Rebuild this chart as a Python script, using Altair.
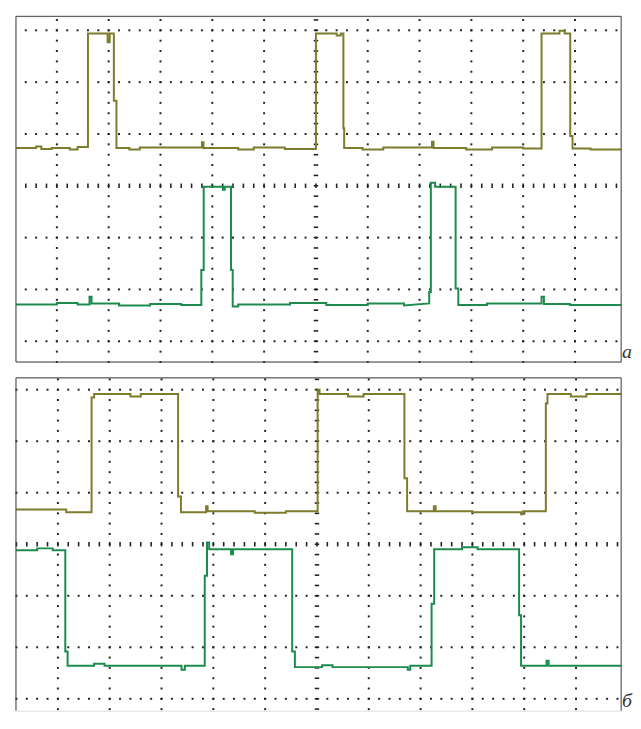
import altair as alt
import numpy as np
import pandas as pd

# ---- screen geometry in divisions (centre of graticule = 0,0) ----
a_x_domain = [-5.79, 5.89]
a_y_domain = [-3.40, 3.27]
b_x_domain = [-5.81, 5.87]
b_y_domain = [-3.23, 3.23]

# ---- panel a, channel 1 (olive) ----
a1_x = [-5.79, -5.40, -5.40, -5.30, -5.30, -5.10, -5.10, -4.75, -4.75, -4.60, -4.60, -4.40,
        -4.40, -4.02, -4.02, -3.98, -3.98, -3.90, -3.90, -3.85, -3.85,
        -3.60, -3.60, -3.40, -3.40, -2.20, -2.20, -2.17, -2.17, -1.50, -1.50, -1.20, -1.20,
        -0.60, -0.60, 0.00,
        0.00, 0.40, 0.40, 0.48, 0.48, 0.53, 0.53, 0.545, 0.545,
        0.90, 0.90, 1.30, 1.30, 2.24, 2.24, 2.27, 2.27, 2.90, 2.90, 3.40, 3.40, 4.00, 4.00, 4.354,
        4.354, 4.70, 4.70, 4.80, 4.80, 4.908, 4.908, 4.952, 4.952, 5.30, 5.30, 5.89]
a1_y = [0.73, 0.73, 0.76, 0.76, 0.71, 0.71, 0.73, 0.73, 0.70, 0.70, 0.75, 0.75,
        2.94, 2.94, 2.77, 2.77, 2.94, 2.94, 1.64, 1.64, 0.73,
        0.73, 0.70, 0.70, 0.74, 0.74, 0.84, 0.84, 0.73, 0.73, 0.70, 0.70, 0.74,
        0.74, 0.71, 0.71,
        2.94, 2.94, 2.90, 2.90, 2.94, 2.94, 1.11, 1.11, 0.73,
        0.73, 0.70, 0.70, 0.74, 0.74, 0.85, 0.85, 0.73, 0.73, 0.70, 0.70, 0.74, 0.74, 0.72, 0.72,
        2.94, 2.94, 2.99, 2.99, 2.94, 2.94, 0.96, 0.96, 0.72, 0.72, 0.70, 0.70]

# ---- panel a, channel 2 (green) ----
a2_x = [-5.79, -5.00, -5.00, -4.60, -4.60, -4.37, -4.37, -4.33, -4.33, -3.80, -3.80, -3.20, -3.20,
        -2.60, -2.60, -2.212,
        -2.212, -2.166, -2.166, -1.797, -1.797, -1.759, -1.759, -1.639, -1.639, -1.606, -1.606,
        -1.50, -1.50, -0.50, -0.50, 0.20, 0.20, 1.00, 1.00, 1.70, 1.70, 2.186,
        2.186, 2.218, 2.218, 2.30, 2.30, 2.696, 2.696, 2.748, 2.748,
        3.30, 3.30, 4.354, 4.354, 4.40, 4.40, 4.90, 4.90, 5.89]
a2_y = [-2.29, -2.29, -2.26, -2.26, -2.29, -2.29, -2.14, -2.14, -2.27, -2.27, -2.31, -2.31, -2.28,
        -2.28, -2.30, -2.30,
        -1.625, -1.625, -0.02, -0.02, -0.076, -0.076, -0.02, -0.02, -1.625, -1.625, -2.33,
        -2.33, -2.29, -2.29, -2.26, -2.26, -2.30, -2.30, -2.27, -2.27, -2.31, -2.27,
        -2.05, -2.05, 0.057, 0.057, -0.02, -0.02, -1.98, -1.98, -2.30,
        -2.30, -2.27, -2.27, -2.14, -2.14, -2.28, -2.28, -2.30, -2.30]

# ---- panel b, channel 1 (olive) ----
b1_x = [-5.81, -4.84, -4.84, -4.35, -4.35, -4.30, -4.30, -3.60, -3.60, -3.40, -3.40, -2.68,
        -2.68, -2.625, -2.625, -2.14, -2.14, -2.11, -2.11, -1.20, -1.20, -0.60, -0.60, 0.013,
        0.013, 0.05, 0.05, 0.60, 0.60, 0.90, 0.90, 1.688, 1.688, 1.740, 1.740,
        2.256, 2.256, 2.29, 2.29, 3.00, 3.00, 3.939, 3.939, 3.98, 3.98, 4.417,
        4.417, 4.449, 4.449, 4.90, 4.90, 5.20, 5.20, 5.87]
b1_y = [0.673, 0.673, 0.621, 0.621, 2.85, 2.85, 2.917, 2.917, 2.87, 2.87, 2.917, 2.917,
        0.929, 0.929, 0.621, 0.621, 0.737, 0.737, 0.64, 0.64, 0.61, 0.61, 0.64, 0.64,
        3.00, 3.00, 2.917, 2.917, 2.87, 2.87, 2.917, 2.917, 1.283, 1.283, 0.64,
        0.64, 0.737, 0.737, 0.64, 0.64, 0.62, 0.62, 0.58, 0.58, 0.64, 0.64,
        2.731, 2.731, 2.917, 2.917, 2.87, 2.87, 2.917, 2.917]

# ---- panel b, channel 2 (green) ----
b2_x = [-5.81, -5.40, -5.40, -5.10, -5.10, -4.857, -4.857, -4.813, -4.813, -4.302, -4.302,
        -4.10, -4.10, -2.614, -2.614, -2.55, -2.55, -2.166, -2.166, -2.122, -2.122, -2.08, -2.08,
        -1.658, -1.658, -1.62, -1.62, -0.478, -0.478, -0.426, -0.426, 0.10, 0.10, 0.30, 0.30,
        1.753, 1.753, 1.80, 1.80, 2.212, 2.212, 2.262, 2.262, 2.80, 2.80, 3.10, 3.10,
        3.901, 3.901, 3.939, 3.939, 4.430, 4.430, 4.47, 4.47, 5.87]
b2_y = [-0.115, -0.115, -0.08, -0.08, -0.115, -0.115, -2.083, -2.083, -2.36, -2.36, -2.32,
        -2.32, -2.36, -2.36, -2.437, -2.437, -2.36, -2.36, -0.61, -0.61, 0.033, 0.033, -0.096,
        -0.096, -0.192, -0.192, -0.096, -0.096, -2.083, -2.083, -2.385, -2.385, -2.35, -2.35, -2.385,
        -2.385, -2.437, -2.437, -2.36, -2.36, -1.154, -1.154, -0.096, -0.096, -0.06, -0.06, -0.096,
        -0.096, -1.379, -1.379, -2.36, -2.36, -2.263, -2.263, -2.36, -2.36]

series_names = ["ch1", "ch2"]
series_colors = ["#7d7c2c", "#1d8b4d"]
panel_labels = ["a", "б"]

GRID = "#222222"
FRAME = "#444444"


def traces_df(x1, y1, x2, y2):
    d1 = pd.DataFrame({"x": x1, "y": y1, "ch": "ch1", "i": range(len(x1))})
    d2 = pd.DataFrame({"x": x2, "y": y2, "ch": "ch2", "i": range(len(x2))})
    return pd.concat([d1, d2], ignore_index=True)


def steps(lo, hi):
    start = np.ceil(lo / 0.2 - 1e-9) * 0.2
    return [round(v, 2) for v in np.arange(start, hi, 0.2)]


def panel(xd, yd, df, label, w, h, sides):
    xs = alt.Scale(domain=xd, nice=False, zero=False)
    ys = alt.Scale(domain=yd, nice=False, zero=False)

    def X(f):
        return alt.X(f, type="quantitative", scale=xs, axis=None)

    def Y(f):
        return alt.Y(f, type="quantitative", scale=ys, axis=None)

    dots = []
    for gx in range(-5, 6):
        if gx != 0:
            dots += [{"x": gx, "y": v} for v in steps(yd[0], yd[1])]
    for gy in range(-3, 4):
        if gy != 0:
            dots += [{"x": v, "y": gy} for v in steps(xd[0], xd[1])]
    dots_df = pd.DataFrame(dots)
    vt_df = pd.DataFrame({"x": steps(xd[0], xd[1]), "y": 0.0})
    ht_df = pd.DataFrame({"x": 0.0, "y": steps(yd[0], yd[1])})

    frame_rows = []
    if "l" in sides:
        frame_rows.append({"x": xd[0], "x2": xd[0], "y": yd[0], "y2": yd[1]})
    if "r" in sides:
        frame_rows.append({"x": xd[1], "x2": xd[1], "y": yd[0], "y2": yd[1]})
    if "t" in sides:
        frame_rows.append({"x": xd[0], "x2": xd[1], "y": yd[1], "y2": yd[1]})
    if "b" in sides:
        frame_rows.append({"x": xd[0], "x2": xd[1], "y": yd[0], "y2": yd[0]})
    frame_df = pd.DataFrame(frame_rows)

    g_dots = alt.Chart(dots_df).mark_square(size=4, color=GRID, opacity=1).encode(x=X("x"), y=Y("y"))
    g_vt = alt.Chart(vt_df).mark_tick(orient="vertical", size=4.5, thickness=1.6, color=GRID, opacity=1).encode(x=X("x"), y=Y("y"))
    g_ht = alt.Chart(ht_df).mark_tick(orient="horizontal", size=4.5, thickness=1.6, color=GRID, opacity=1).encode(x=X("x"), y=Y("y"))
    frame = alt.Chart(frame_df).mark_rule(color=FRAME, strokeWidth=1).encode(
        x=X("x"), x2="x2", y=Y("y"), y2="y2")
    lines = alt.Chart(df).mark_line(strokeWidth=2, interpolate="linear").encode(
        x=X("x"), y=Y("y"),
        color=alt.Color("ch:N", scale=alt.Scale(domain=series_names, range=series_colors), legend=None),
        order="i:Q",
    )
    txt = alt.Chart(pd.DataFrame({"x": [xd[1]], "y": [yd[0]], "t": [label]})).mark_text(
        align="left", baseline="bottom", dx=1, dy=0, font="Liberation Serif",
        fontStyle="italic", fontSize=20, color="#333333"
    ).encode(x=X("x"), y=Y("y"), text="t:N")
    return alt.layer(g_dots, g_vt, g_ht, lines, frame, txt).properties(width=w, height=h)


pa = panel(a_x_domain, a_y_domain, traces_df(a1_x, a1_y, a2_x, a2_y), panel_labels[0], 611, 349, "lrtb")
pb = panel(b_x_domain, b_y_domain, traces_df(b1_x, b1_y, b2_x, b2_y), panel_labels[1], 611, 336, "lrt")

chart = alt.vconcat(pa, pb, spacing=16, bounds="flush").properties(
    padding={"left": 3, "top": 4, "right": 0, "bottom": 0}
).configure_view(stroke="transparent").configure(background="white")

chart.save("out.html", embed_options={"renderer": "svg", "actions": False})
